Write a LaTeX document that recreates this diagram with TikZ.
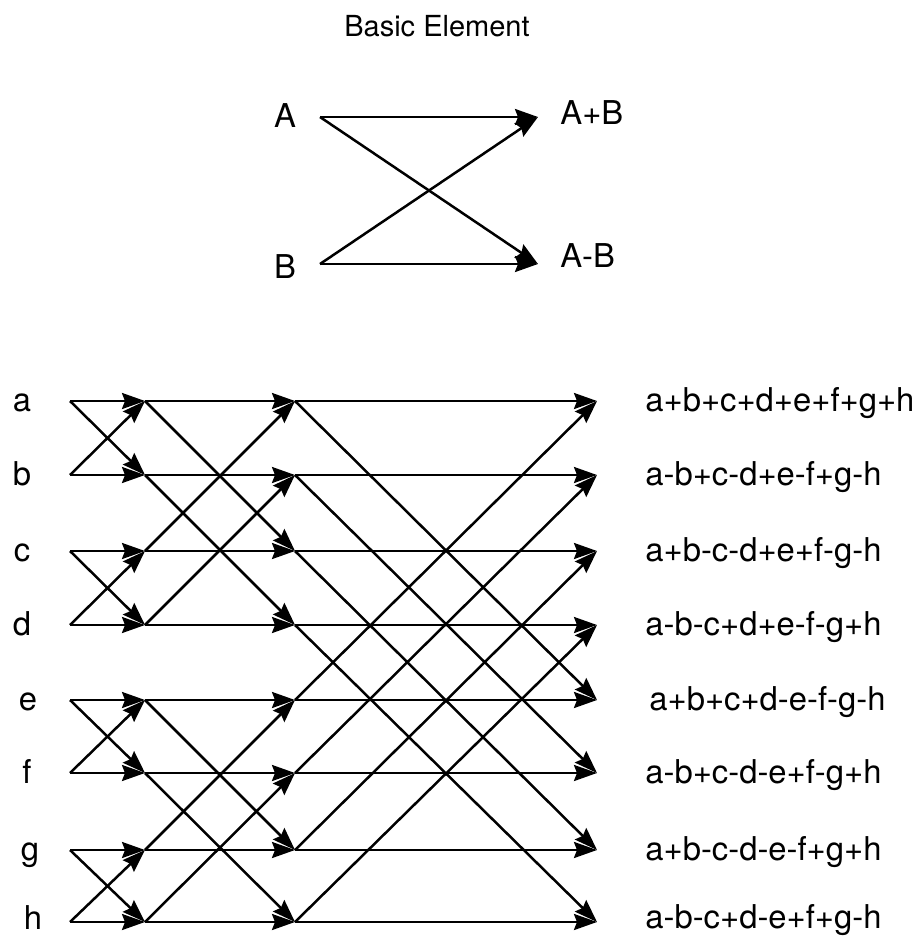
\documentclass[tikz,border=0pt]{standalone}
\usepackage{fontspec}
\setmainfont{TeX Gyre Heros}
\usetikzlibrary{arrows.meta}
\tikzset{flow/.style={-{Stealth[length=11.5pt,width=8pt,inset=1.5pt]},line width=1.25pt},sig label/.style={inner sep=0pt,font=\fontsize{16.4}{19}\selectfont,anchor=base},out label/.style={sig label,anchor=base west},title label/.style={inner sep=0pt,font=\fontsize{14.5}{17}\selectfont,anchor=base}}

\begin{document}
\begin{tikzpicture}[x=.5pt,y=-.5pt]
 \useasboundingbox (0,0) rectangle (918,938);
 \node[title label] (title) at (437,36) {Basic Element};

 % basic element
 \node[sig label] (A) at (285,127) {A};
 \node[sig label] (B) at (285,278) {B};
 \coordinate (A-in) at (320,117);
 \coordinate (B-in) at (320,264);
 \coordinate (A-out) at (538,117);
 \coordinate (B-out) at (538,264);
 \node[out label] (AplusB) at (560,124) {A+B};
 \node[out label] (AminusB) at (560,267) {A-B};
 \foreach \src/\dst in {A-in/A-out,B-in/A-out,A-in/B-out,B-in/B-out} {\draw[flow] (\src)--(\dst);}

 % junction points of the three stages
 \foreach \row/\y in {a/401,b/475,c/551,d/625,e/700,f/773,g/850,h/922} {
  \coordinate (\row0) at (70,\y);
  \coordinate (\row1) at (145,\y);
  \coordinate (\row2) at (295,\y);
  \coordinate (\row3) at (597,\y);
 }
 \foreach \row/\x/\y in {a/22/411,b/22/485,c/22/561,d/22/635,e/28/710,f/27/783,g/30/860,h/33/929} {\node[sig label] (in-\row) at (\x,\y) {\row};}

 % stage 1: stride 1
 \foreach \p/\q in {a/b,c/d,e/f,g/h} {
  \draw[flow] (\p0)--(\p1); \draw[flow] (\q0)--(\p1);
  \draw[flow] (\p0)--(\q1); \draw[flow] (\q0)--(\q1);}
 % stage 2: stride 2
 \foreach \p/\q in {a/c,b/d,e/g,f/h} {
  \draw[flow] (\p1)--(\p2); \draw[flow] (\q1)--(\p2);
  \draw[flow] (\p1)--(\q2); \draw[flow] (\q1)--(\q2);}
 % stage 3: stride 4
 \foreach \p/\q in {a/e,b/f,c/g,d/h} {
  \draw[flow] (\p2)--(\p3); \draw[flow] (\q2)--(\p3);
  \draw[flow] (\p2)--(\q3); \draw[flow] (\q2)--(\q3);}

 \node[out label] (out-a) at (645,411) {a+b+c+d+e+f+g+h};
 \node[out label] (out-b) at (645,485) {a-b+c-d+e-f+g-h};
 \node[out label] (out-c) at (645,561) {a+b-c-d+e+f-g-h};
 \node[out label] (out-d) at (645,635) {a-b-c+d+e-f-g+h};
 \node[out label] (out-e) at (649,710) {a+b+c+d-e-f-g-h};
 \node[out label] (out-f) at (645,783) {a-b+c-d-e+f-g+h};
 \node[out label] (out-g) at (645,860) {a+b-c-d-e-f+g+h};
 \node[out label] (out-h) at (645,928) {a-b-c+d-e+f+g-h};
\end{tikzpicture}
\end{document}
